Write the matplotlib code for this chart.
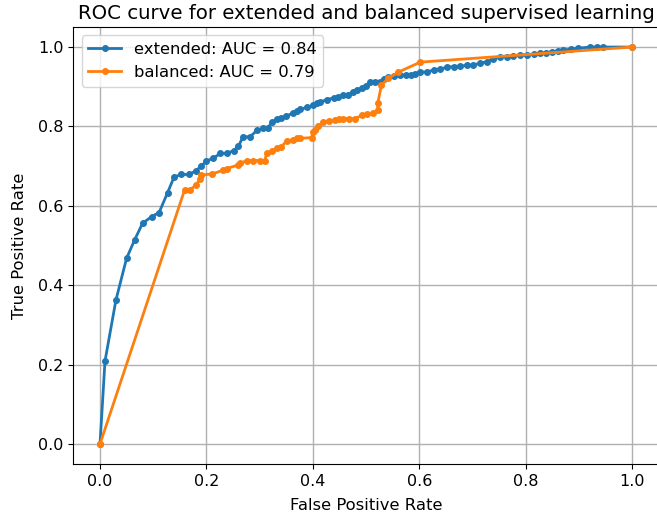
import matplotlib
matplotlib.use("Agg")
import matplotlib.pyplot as plt

ext_fpr = [0.0, 0.0094, 0.030, 0.050, 0.065, 0.080, 0.097, 0.111, 0.127, 0.139, 0.152, 0.167,
           0.180, 0.190, 0.200, 0.213, 0.226, 0.238, 0.251, 0.260, 0.269, 0.282, 0.295, 0.307,
           0.315, 0.323, 0.333, 0.341, 0.350, 0.363, 0.370, 0.376, 0.389, 0.400, 0.407, 0.414,
           0.426, 0.439, 0.448, 0.457, 0.467, 0.476, 0.484, 0.492, 0.500, 0.508, 0.516, 0.526,
           0.534, 0.542, 0.552, 0.564, 0.575, 0.584, 0.592, 0.602, 0.614, 0.627, 0.640, 0.652,
           0.665, 0.677, 0.690, 0.702, 0.714, 0.727, 0.739, 0.752, 0.765, 0.777, 0.789, 0.802,
           0.815, 0.827, 0.838, 0.849, 0.860, 0.871, 0.885, 0.899, 0.921, 0.935, 0.946, 1.0]
ext_tpr = [0.0, 0.209, 0.363, 0.468, 0.514, 0.556, 0.573, 0.583, 0.633, 0.672, 0.679, 0.679,
           0.688, 0.700, 0.713, 0.720, 0.732, 0.732, 0.739, 0.750, 0.774, 0.774, 0.790, 0.795,
           0.795, 0.811, 0.818, 0.821, 0.826, 0.834, 0.840, 0.843, 0.848, 0.853, 0.858, 0.862,
           0.867, 0.872, 0.875, 0.878, 0.880, 0.888, 0.891, 0.896, 0.903, 0.912, 0.912, 0.913,
           0.920, 0.925, 0.927, 0.929, 0.929, 0.930, 0.932, 0.937, 0.937, 0.942, 0.945, 0.949,
           0.951, 0.952, 0.954, 0.955, 0.959, 0.963, 0.970, 0.975, 0.976, 0.977, 0.980, 0.980,
           0.982, 0.984, 0.986, 0.988, 0.990, 0.992, 0.995, 0.997, 1.0, 1.0, 1.0, 1.0]

bal_fpr = [0.0, 0.159, 0.169, 0.180, 0.188, 0.190, 0.210, 0.232, 0.238, 0.260, 0.263, 0.276,
           0.288, 0.300, 0.310, 0.313, 0.323, 0.332, 0.341, 0.351, 0.363, 0.370, 0.376, 0.398,
           0.401, 0.404, 0.410, 0.420, 0.430, 0.442, 0.450, 0.457, 0.468, 0.479, 0.493, 0.501,
           0.514, 0.522, 0.522, 0.529, 0.542, 0.561, 0.602, 1.0]
bal_tpr = [0.0, 0.640, 0.640, 0.652, 0.667, 0.678, 0.680, 0.690, 0.694, 0.703, 0.707, 0.714,
           0.714, 0.714, 0.714, 0.732, 0.737, 0.745, 0.749, 0.764, 0.766, 0.770, 0.770, 0.772,
           0.787, 0.791, 0.800, 0.812, 0.814, 0.816, 0.818, 0.820, 0.820, 0.820, 0.828, 0.831,
           0.833, 0.841, 0.858, 0.904, 0.921, 0.937, 0.962, 1.0]

labels = ["extended: AUC = 0.84", "balanced: AUC = 0.79"]
title = "ROC curve for extended and balanced supervised learning"

fig = plt.figure(figsize=(6.57, 5.21), dpi=100)
ax = fig.add_axes([73.4 / 657, (521 - 463.9) / 521, (658.6 - 73.4) / 657, (463.9 - 27.2) / 521])
ax.plot(ext_fpr, ext_tpr, marker='.', markersize=8, linewidth=2, color='#1f77b4', label=labels[0])
ax.plot(bal_fpr, bal_tpr, marker='.', markersize=8, linewidth=2, color='#ff7f0e', label=labels[1])
ax.set_xlim(-0.05, 1.05)
ax.set_ylim(-0.05, 1.05)
ax.set_xticks([0.0, 0.2, 0.4, 0.6, 0.8, 1.0])
ax.set_yticks([0.0, 0.2, 0.4, 0.6, 0.8, 1.0])
ax.grid(True, color='#b0b0b0', linewidth=1)
ax.set_axisbelow(True)
ax.set_xlabel("False Positive Rate", fontsize=11.8, labelpad=7)
ax.set_ylabel("True Positive Rate", fontsize=11.8, labelpad=8)
ax.tick_params(labelsize=11.5)
ax.set_title(title, fontsize=14.2)
ax.legend(loc='upper left', fontsize=11.8)
fig.savefig("out.png", dpi=100)
